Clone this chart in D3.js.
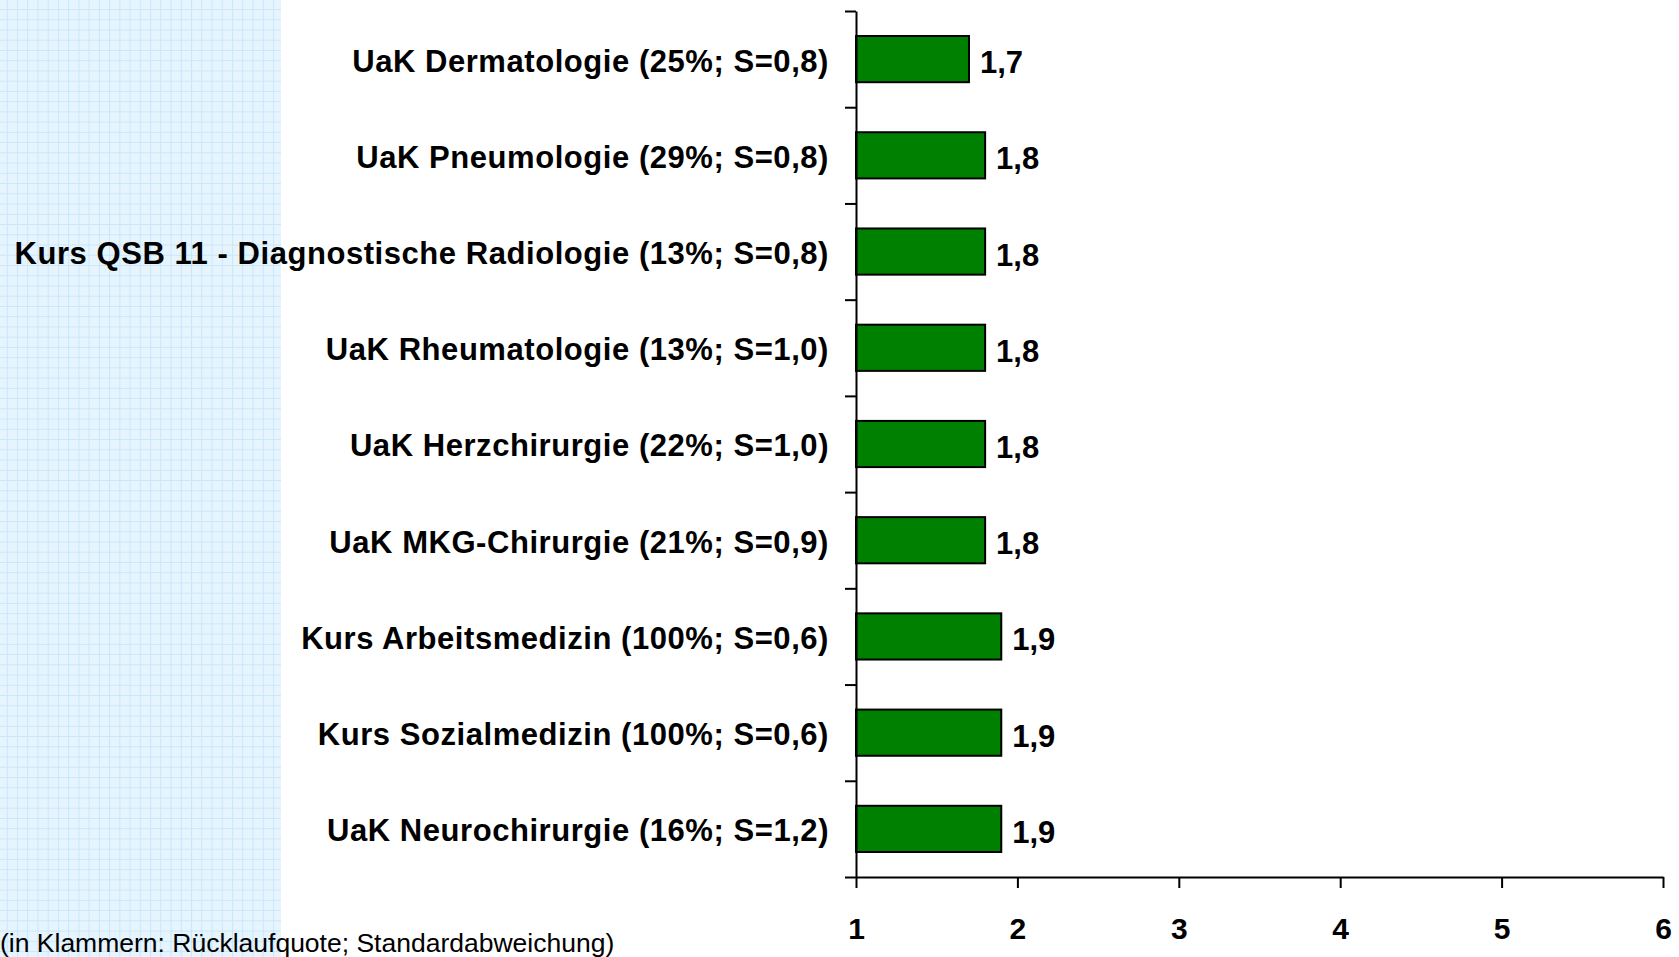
<!DOCTYPE html>
<html>
<head>
<meta charset="utf-8">
<script src="https://cdn.jsdelivr.net/npm/d3@7"></script>
<style>
  body { margin: 0; background: #fff; }
  svg { display: block; font-family: "Liberation Sans", Arial, sans-serif; }
</style>
</head>
<body>
<div id="chart"></div>
<script>
// Werte
const courses = [
  "UaK Dermatologie",
  "UaK Pneumologie",
  "Kurs QSB 11 - Diagnostische Radiologie",
  "UaK Rheumatologie",
  "UaK Herzchirurgie",
  "UaK MKG-Chirurgie",
  "Kurs Arbeitsmedizin",
  "Kurs Sozialmedizin",
  "UaK Neurochirurgie"
];
const quotas = ["25%", "29%", "13%", "13%", "22%", "21%", "100%", "100%", "16%"];
const sds = ["0,8", "0,8", "0,8", "1,0", "1,0", "0,9", "0,6", "0,6", "1,2"];
const means = [1.7, 1.8, 1.8, 1.8, 1.8, 1.8, 1.9, 1.9, 1.9];
const xTicks = [1, 2, 3, 4, 5, 6];

const width = 1679, height = 957;
const fmt = v => d3.format(".1f")(v).replace(".", ",");

const svg = d3.select("#chart").append("svg")
  .attr("width", width)
  .attr("height", height);

// kariertes Feld links
const defs = svg.append("defs");
const pat = defs.append("pattern")
  .attr("id", "grid")
  .attr("patternUnits", "userSpaceOnUse")
  .attr("x", 6.7).attr("y", 9)
  .attr("width", 10.24).attr("height", 10.24);
pat.append("rect").attr("width", 10.24).attr("height", 10.24).attr("fill", "#e6f4fe");
pat.append("path")
  .attr("d", "M0,0.5H10.24M0.5,0V10.24")
  .attr("stroke", "#c9e7fb")
  .attr("stroke-width", 1);

svg.append("rect")
  .attr("x", 0).attr("y", 0)
  .attr("width", 281).attr("height", height)
  .attr("fill", "url(#grid)");

const x = d3.scaleLinear().domain([1, 6]).range([856, 1663]);
const y = d3.scaleBand()
  .domain(courses)
  .range([11, 877])
  .paddingInner(0.52)
  .paddingOuter(0.26);
const slots = d3.scaleLinear().domain([0, courses.length]).range([11, 877]);

// Balken
svg.append("g")
  .selectAll("rect")
  .data(courses)
  .join("rect")
  .attr("x", x(1))
  .attr("y", d => y(d))
  .attr("width", (d, i) => x(means[i]) - x(1))
  .attr("height", y.bandwidth())
  .attr("fill", "#008000")
  .attr("stroke", "#000")
  .attr("stroke-width", 2);

// Werte
svg.append("g")
  .selectAll("text")
  .data(courses)
  .join("text")
  .attr("x", (d, i) => x(means[i]) + 11)
  .attr("y", d => y(d) + y.bandwidth() / 2)
  .attr("dy", "0.45em")
  .attr("font-size", 31)
  .attr("font-weight", "bold")
  .text((d, i) => fmt(means[i]));

// Beschriftung der Kategorien
svg.append("g")
  .selectAll("text")
  .data(courses)
  .join("text")
  .attr("x", 829)
  .attr("y", d => y(d) + y.bandwidth() / 2)
  .attr("dy", "0.4em")
  .attr("text-anchor", "end")
  .attr("font-size", 31)
  .attr("letter-spacing", 0.55)
  .attr("font-weight", "bold")
  .text((d, i) => `${d} (${quotas[i]}; S=${sds[i]})`);

// y-Achse
const yAxis = svg.append("g")
  .attr("transform", `translate(${x(1)},0)`)
  .call(d3.axisLeft(slots)
    .tickValues(d3.range(courses.length + 1))
    .tickSize(11)
    .tickSizeOuter(0)
    .tickFormat(""));

// x-Achse
const xAxis = svg.append("g")
  .attr("transform", "translate(0,877)")
  .call(d3.axisBottom(x)
    .tickValues(xTicks)
    .tickSize(11)
    .tickSizeOuter(0)
    .tickPadding(30)
    .tickFormat(d3.format("d")));
xAxis.attr("font-family", null).attr("font-size", null);
xAxis.selectAll("text")
  .attr("font-size", 30)
  .attr("font-weight", "bold")
  .attr("fill", "#000");

[yAxis, xAxis].forEach(a => {
  a.selectAll("line").attr("stroke", "#000").attr("stroke-width", 2);
  a.select(".domain").attr("stroke", "#000").attr("stroke-width", 2);
});

svg.append("text")
  .attr("x", 0)
  .attr("y", 952)
  .attr("font-size", 26.5)
  .text("(in Klammern: Rücklaufquote; Standardabweichung)");
</script>
</body>
</html>
